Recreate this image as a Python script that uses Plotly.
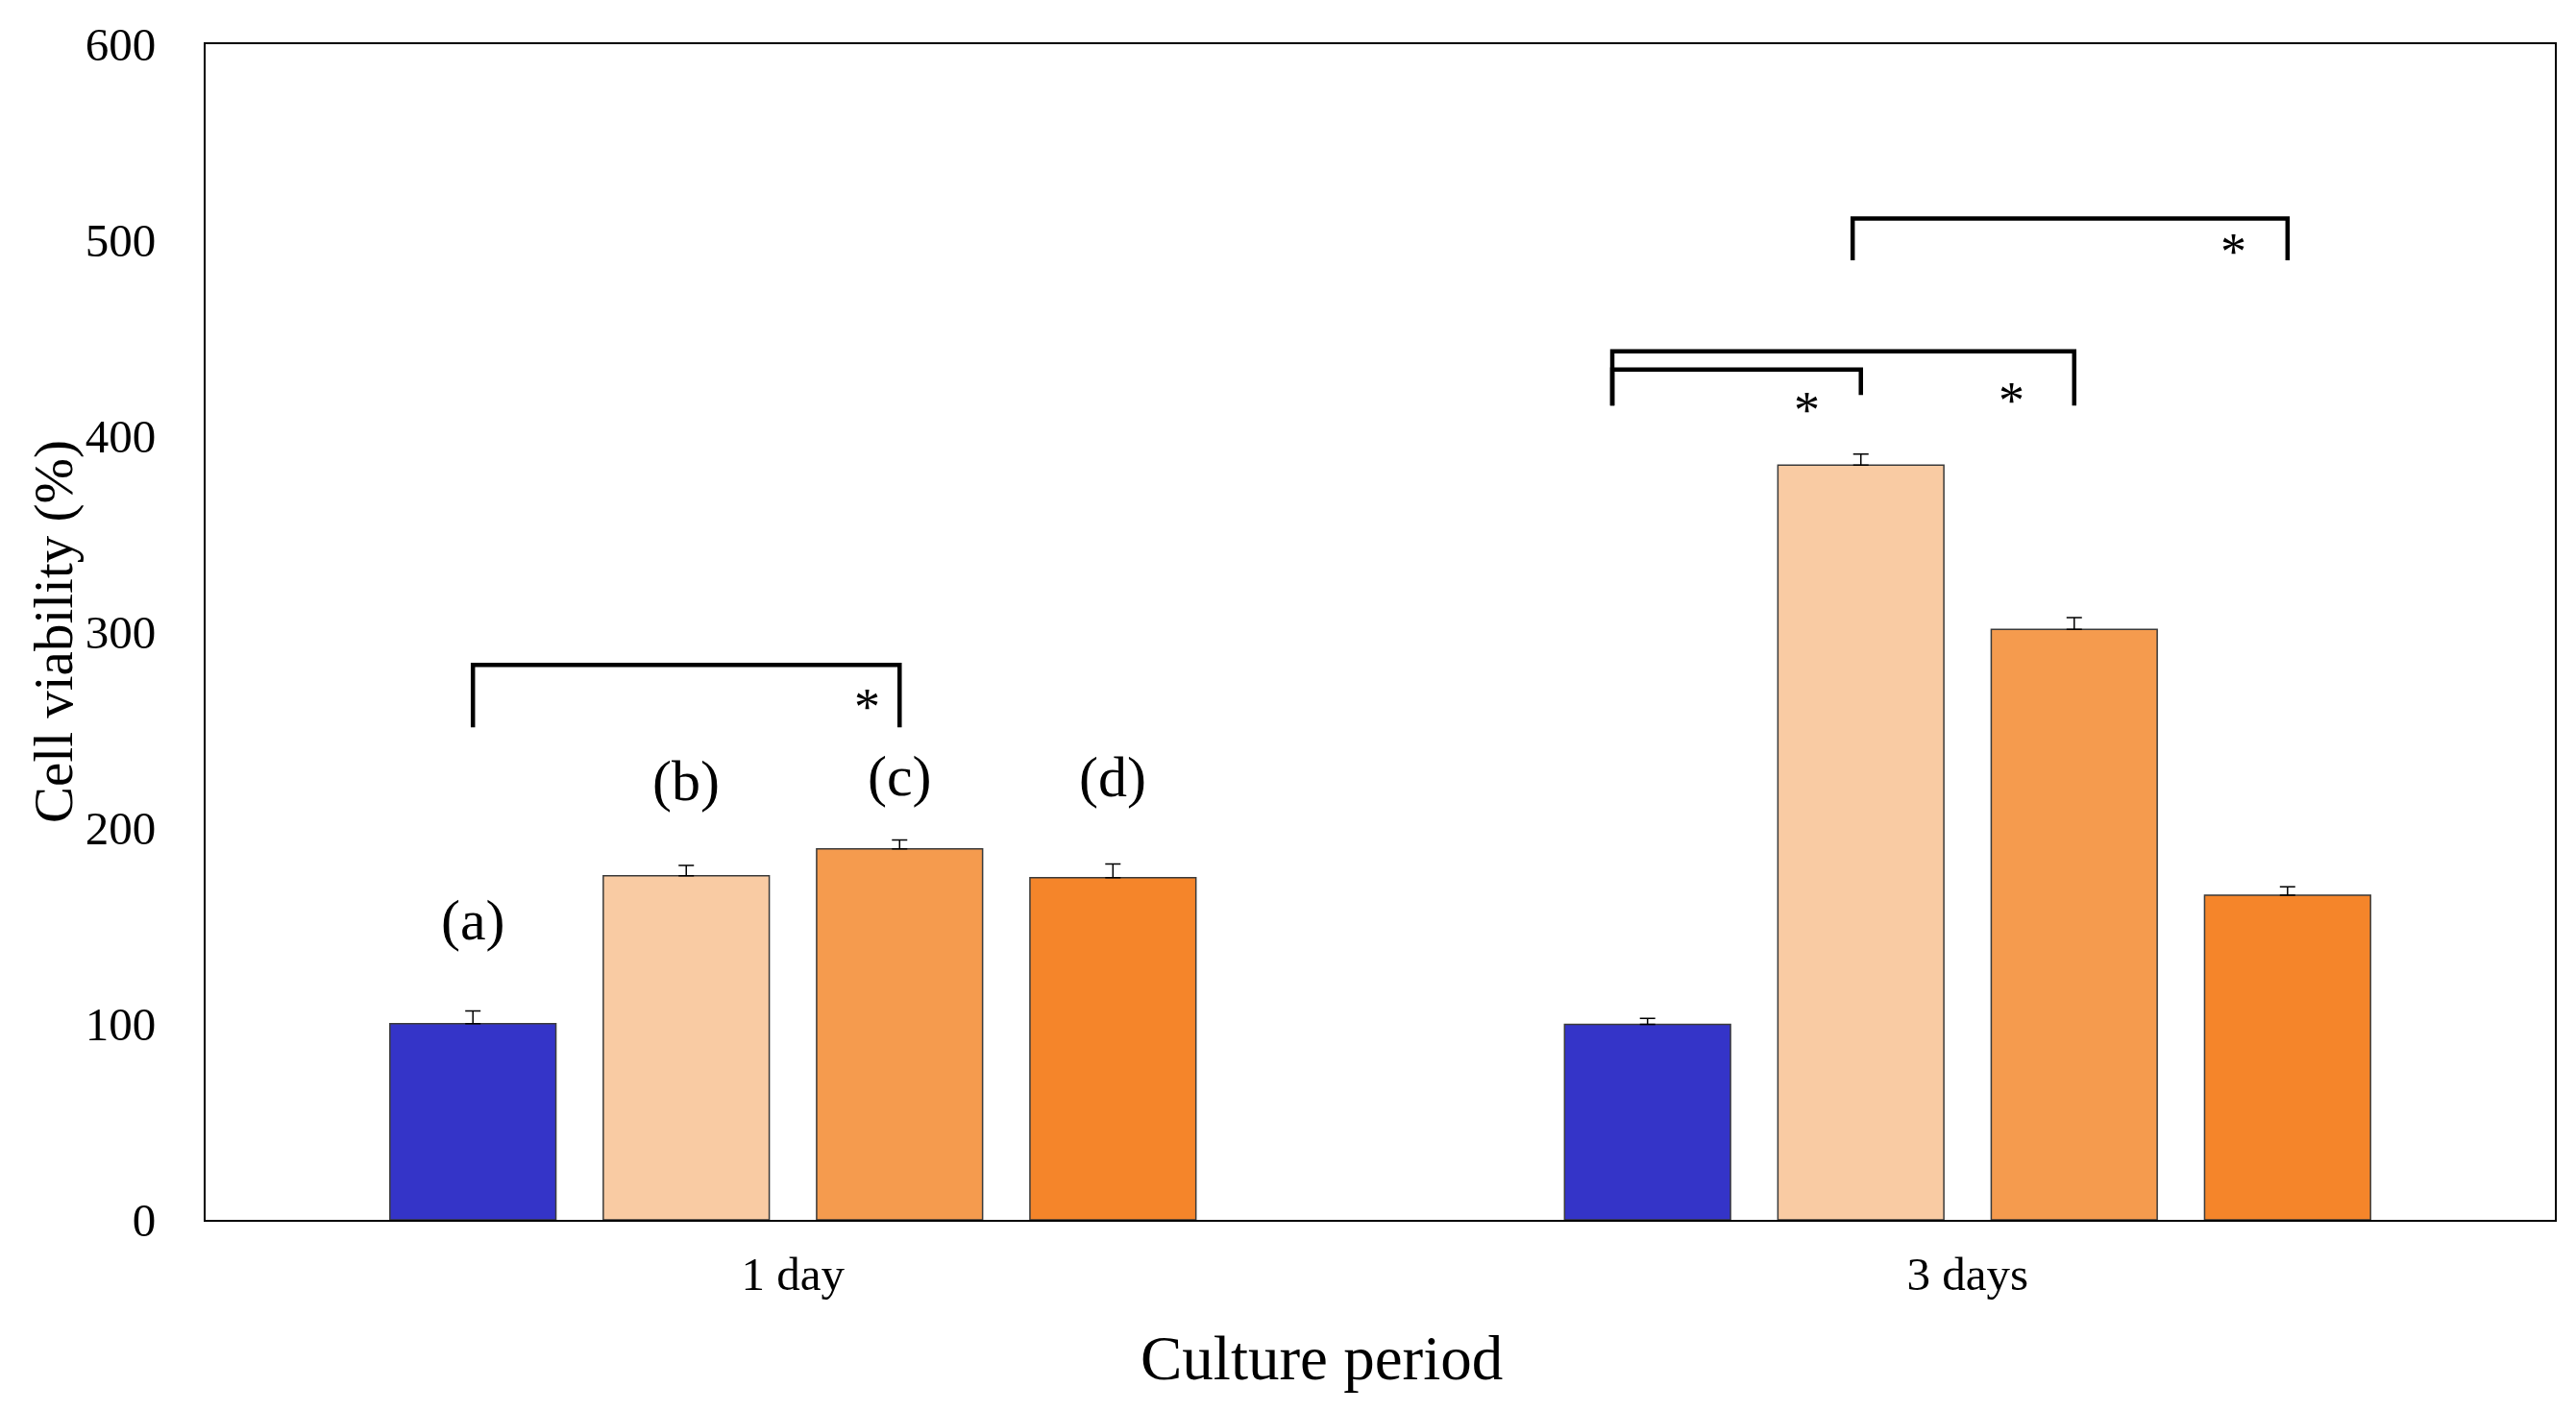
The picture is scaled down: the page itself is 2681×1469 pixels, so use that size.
import plotly.graph_objects as go

# culture periods on the x axis
periods = ["1 day", "3 days"]

# cell viability (%) per group, one value per period
group_names = ["(a)", "(b)", "(c)", "(d)"]
viab_a = [100.1, 99.8]
viab_b = [175.6, 385.2]
viab_c = [189.3, 301.3]
viab_d = [174.6, 165.7]
err_a = [6.5, 3.0]
err_b = [5.3, 5.6]
err_c = [4.6, 6.0]
err_d = [7.0, 4.3]
bar_colors = ["#3434C8", "#F9CBA3", "#F59B4E", "#F5852A"]

# group labels above the 1 day bars
label_y = [153.0, 224.0, 226.5, 226.0]

# significance brackets: period index, from bar, to bar, top, left foot, right foot, star y
brk_period = [0, 1, 1, 1]
brk_from = [0, 0, 0, 1]
brk_to = [2, 1, 2, 3]
brk_top = [283.2, 433.9, 443.2, 511.0]
brk_foot_l = [251.4, 415.6, 415.6, 489.7]
brk_foot_r = [251.4, 420.9, 415.6, 489.7]
brk_star_y = [262.0, 413.0, 418.0, 494.0]
brk_star_dx = [-0.028, -0.046, -0.053, -0.046]
brk_nudge_l = [0.0, -0.03, -0.03, -0.007]

BARGAP = 0.2735
GROUPGAP = 0.222
slot = (1 - BARGAP) / 4


def bar_x(period, i):
    return period + (i - 1.5) * slot


series = [viab_a, viab_b, viab_c, viab_d]
errors = [err_a, err_b, err_c, err_d]

fig = go.Figure()
for name, vals, errs, col in zip(group_names, series, errors, bar_colors):
    fig.add_trace(go.Bar(
        x=periods, y=vals, name=name,
        marker=dict(color=col, line=dict(color="#3a3a3a", width=1.5)),
        error_y=dict(type="data", array=errs, arrayminus=[0] * len(errs),
                     symmetric=False, color="black", thickness=1.5, width=8),
    ))

serif = "Liberation Serif, Times New Roman, serif"

# letter labels over the 1 day group
for i, name in enumerate(group_names):
    fig.add_annotation(x=bar_x(0, i), y=label_y[i], text=name, showarrow=False,
                       font=dict(family=serif, size=60, color="black"),
                       xref="x", yref="y")

# brackets with stars
for k in range(len(brk_period)):
    p = brk_period[k]
    x0 = bar_x(p, brk_from[k]) + brk_nudge_l[k]
    x1 = bar_x(p, brk_to[k])
    fig.add_trace(go.Scatter(
        x=[x0, x0, x1, x1],
        y=[brk_foot_l[k], brk_top[k], brk_top[k], brk_foot_r[k]],
        mode="lines", line=dict(color="black", width=4.5),
        xaxis="x2", showlegend=False, hoverinfo="skip",
    ))
    fig.add_annotation(x=x1 + brk_star_dx[k], y=brk_star_y[k], text="*",
                       showarrow=False,
                       font=dict(family=serif, size=54, color="black"),
                       xref="x2", yref="y")

# axis titles (the x title sits a bit left of centre in the original)
fig.add_annotation(text="Culture period", xref="paper", yref="paper",
                   x=0.4751, y=0, yshift=-144, showarrow=False,
                   xanchor="center", yanchor="middle",
                   font=dict(family=serif, size=65, color="black"))
fig.add_annotation(text="Cell viability (%)", xref="paper", yref="paper",
                   x=0, y=0.5, xshift=-158, showarrow=False, textangle=-90,
                   xanchor="center", yanchor="middle",
                   font=dict(family=serif, size=57, color="black"))

# the page body has an 8px margin, so the figure is a little smaller than the window
fig.update_layout(
    width=2673, height=1461,
    margin=dict(l=206, r=22, t=38, b=199),
    plot_bgcolor="white", paper_bgcolor="white",
    barmode="group", bargap=BARGAP, bargroupgap=GROUPGAP,
    showlegend=False,
    font=dict(family=serif, color="black"),
    xaxis=dict(
        type="category", categoryorder="array", categoryarray=periods,
        range=[-0.5, 1.5], showline=True, mirror=True, linecolor="black",
        linewidth=2, ticks="", showgrid=False, ticklabelstandoff=12,
        tickfont=dict(family=serif, size=49, color="black"),
    ),
    xaxis2=dict(overlaying="x", range=[-0.5, 1.5], visible=False),
    yaxis=dict(
        range=[0, 600], dtick=100, showline=True, mirror=True,
        linecolor="black", linewidth=2, ticks="", showgrid=False,
        zeroline=False, ticklabelstandoff=40,
        tickfont=dict(family=serif, size=49, color="black"),
    ),
)

fig.write_html("out.html")
